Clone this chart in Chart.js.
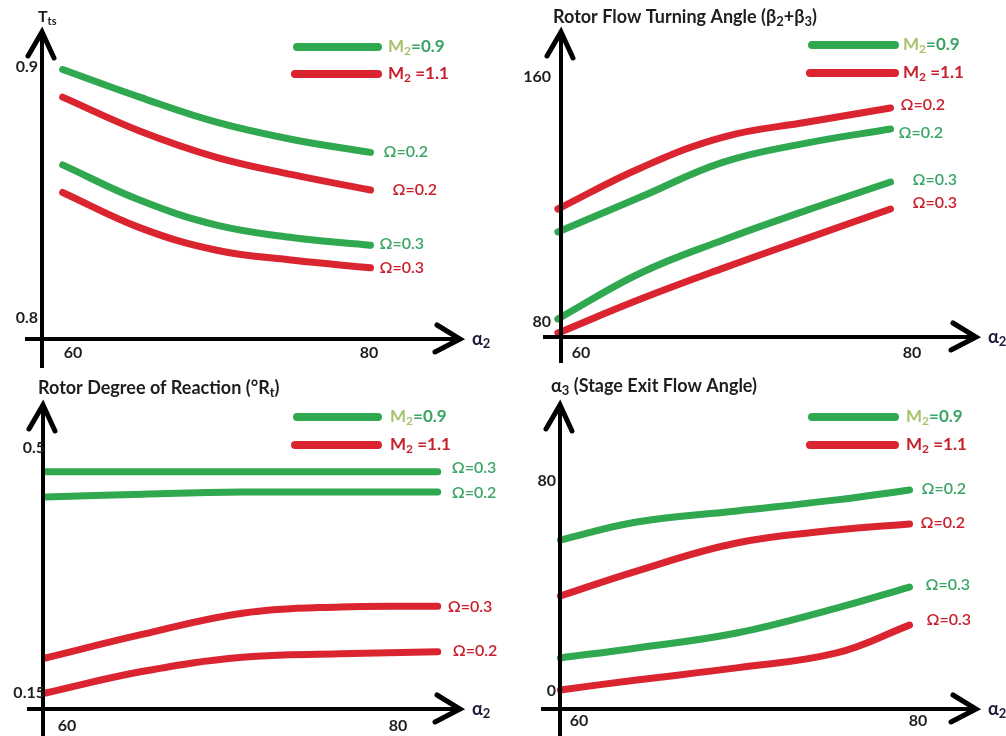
<!DOCTYPE html>
<html>
<head>
<meta charset="utf-8">
<script src="https://cdn.jsdelivr.net/npm/chart.js@4.4.1/dist/chart.umd.min.js"></script>
<style>
  body { margin: 0; background: #fff; }
  #wrap { position: relative; width: 1006px; height: 736px; overflow: hidden; background: #fff; }
  .p { position: absolute; width: 503px; height: 368px; }
</style>
</head>
<body>
<div id="wrap">
  <div class="p" style="left:0;top:0"><canvas id="c1" width="503" height="368"></canvas></div>
  <div class="p" style="left:503px;top:0"><canvas id="c2" width="503" height="368"></canvas></div>
  <div class="p" style="left:0;top:368px"><canvas id="c3" width="503" height="368"></canvas></div>
  <div class="p" style="left:503px;top:368px"><canvas id="c4" width="503" height="368"></canvas></div>
</div>
<script>
// ---- data ----
const alphaTicks = [60, 80];

// total-to-static efficiency
const tsX = [59.3, 64.5, 69.7, 74.9, 80.1];
const tsGreen02 = [0.899, 0.888, 0.878, 0.871, 0.866];
const tsRed02 = [0.888, 0.8745, 0.864, 0.857, 0.851];
const tsGreen03 = [0.861, 0.847, 0.837, 0.832, 0.829];
const tsRed03 = [0.850, 0.836, 0.827, 0.823, 0.820];
const tsTicks = [0.8, 0.9];

// rotor flow turning angle
const turnX = [58.6, 63.6, 68.6, 73.7, 78.7];
const turnRed02 = [116.9, 130.3, 140.4, 145.3, 149.9];
const turnGreen02 = [109.4, 120.8, 132.2, 138.5, 143.0];
const turnGreen03 = [81.0, 96.0, 106.8, 116.6, 125.7];
const turnRed03 = [76.4, 87.5, 97.6, 107.4, 116.9];
const turnTicks = [80, 160];

// rotor degree of reaction
const reactX = [58.7, 64.6, 70.6, 76.5, 82.4];
const reactGreen03 = [0.466, 0.466, 0.466, 0.466, 0.466];
const reactGreen02 = [0.430, 0.434, 0.437, 0.437, 0.437];
const reactRed03 = [0.200, 0.234, 0.264, 0.273, 0.274];
const reactRed02 = [0.150, 0.181, 0.201, 0.206, 0.209];
const reactTicks = [0.15, 0.5];

// stage exit flow angle
const exitX = [58.9, 63.4, 69.3, 75.2, 79.5];
const exitGreen02 = [57.5, 64.4, 68.6, 72.8, 76.6];
const exitRed02 = [36.2, 45.7, 56.4, 61.3, 63.6];
const exitGreen03 = [12.6, 16.4, 22.1, 31.6, 39.6];
const exitRed03 = [0.4, 4.2, 8.8, 14.5, 25.1];
const exitTicks = [0, 80];

const omegaLabels = ['Ω=0.2', 'Ω=0.3'];

// ---- styles ----
const GREEN = '#2fa84f', RED = '#da2530';
const GREEN_TXT = '#3aa565', RED_TXT = '#c8202c', OLIVE = '#a9c26e';
const DARK = '#1e1e1e', ALPHA_C = '#1c1c3c';
const FONT = 'Lato, "DejaVu Sans", sans-serif';

function drawParts(ctx, x, y, parts, size, weight, align) {
  ctx.textBaseline = 'middle';
  ctx.textAlign = 'left';
  let w = 0;
  parts.forEach(([t, c, sub]) => {
    ctx.font = weight + ' ' + (sub ? Math.round(size * 0.7) : size) + 'px ' + FONT;
    w += ctx.measureText(t).width;
  });
  let cx = align === 'right' ? x - w : align === 'center' ? x - w / 2 : x;
  parts.forEach(([t, c, sub]) => {
    ctx.font = weight + ' ' + (sub ? Math.round(size * 0.7) : size) + 'px ' + FONT;
    ctx.fillStyle = c;
    ctx.fillText(t, cx, y + (sub ? size * 0.25 : 0));
    cx += ctx.measureText(t).width;
  });
}

function seg(ctx, pts) {
  ctx.beginPath();
  ctx.moveTo(pts[0][0], pts[0][1]);
  for (let i = 1; i < pts.length; i++) ctx.lineTo(pts[i][0], pts[i][1]);
  ctx.stroke();
}

const decor = {
  id: 'decor',
  afterDatasetsDraw(chart, args, o) {
    const ctx = chart.ctx, xs = chart.scales.x, ys = chart.scales.y;
    const a = o.axes;
    ctx.save();
    // axes with hand drawn arrow heads
    ctx.strokeStyle = '#000';
    ctx.lineCap = 'butt';
    ctx.lineWidth = 4;
    seg(ctx, [[a.ax, a.top + 2], [a.ax, a.bottom]]);
    seg(ctx, [[a.left, a.ay], [a.tip - 2, a.ay]]);
    ctx.lineWidth = 5;
    ctx.lineCap = 'round';
    ctx.lineJoin = 'miter';
    seg(ctx, [[a.ax - 14, a.top + 24], [a.ax, a.top], [a.ax + 12, a.top + 26]]);
    seg(ctx, [[a.tip - 23, a.ay - 14], [a.tip, a.ay], [a.tip - 25, a.ay + 13]]);
    drawParts(ctx, a.tip + 12, a.ay, [['α', ALPHA_C], ['2', ALPHA_C, true]], 18, 'bold');

    // ticks
    o.yTicks.forEach(v => drawParts(ctx, o.yTickRight, ys.getPixelForValue(v), [[String(v), DARK]], 16, 'bold', 'right'));
    alphaTicks.forEach(v => drawParts(ctx, xs.getPixelForValue(v), o.xTickY, [[String(v), DARK]], 16, 'bold', 'center'));

    // title
    drawParts(ctx, o.title.x, o.title.y, o.title.parts, o.title.size, 'bold');

    // legend
    const L = o.legend;
    ctx.lineWidth = 8;
    ctx.strokeStyle = GREEN;
    seg(ctx, [[L.x1 + 2, L.yG], [L.x2, L.yG]]);
    ctx.strokeStyle = RED;
    seg(ctx, [[L.x1, L.yR], [L.x2, L.yR]]);
    drawParts(ctx, L.tx, L.yG, [['M', OLIVE], ['2', OLIVE, true], ['=0.9', GREEN_TXT]], 17, 'bold');
    drawParts(ctx, L.tx, L.yR, [['M', RED_TXT], ['2', RED_TXT, true], [' =1.1', RED_TXT]], 17, 'bold');

    // curve end labels
    chart.data.datasets.forEach((ds, i) => {
      const last = ds.data[ds.data.length - 1];
      const off = o.labelOffsets[i];
      const col = ds.borderColor === GREEN ? GREEN_TXT : RED_TXT;
      drawParts(ctx, xs.getPixelForValue(last.x) + off[0], ys.getPixelForValue(last.y) + off[1], [[ds.label, col]], 16, '600');
    });
    ctx.restore();
  }
};

// scale range so that value v1 sits at pixel p1 and v2 at p2
function range(v1, p1, v2, p2, size) {
  const k = (p2 - p1) / (v2 - v1);
  const a = v1 - p1 / k, b = v1 + (size - p1) / k;
  return [Math.min(a, b), Math.max(a, b)];
}

function makePanel(id, cfg) {
  const xr = range(cfg.xAnchor[0], cfg.xAnchor[1], cfg.xAnchor[2], cfg.xAnchor[3], 503);
  const yr = range(cfg.yAnchor[0], 368 - cfg.yAnchor[1], cfg.yAnchor[2], 368 - cfg.yAnchor[3], 368);
  const datasets = cfg.series.map(s => ({
    label: s.label,
    data: s.x.map((x, i) => ({ x: x, y: s.y[i] })),
    borderColor: s.color,
    borderWidth: 7,
    borderCapStyle: 'round',
    pointRadius: 0,
    tension: 0.4,
    fill: false
  }));
  new Chart(document.getElementById(id), {
    type: 'line',
    data: { datasets },
    options: {
      responsive: false,
      animation: false,
      events: [],
      layout: { padding: 0 },
      plugins: { legend: { display: false }, tooltip: { enabled: false }, decor: cfg.decor },
      scales: {
        x: { type: 'linear', display: false, min: xr[0], max: xr[1] },
        y: { type: 'linear', display: false, min: yr[0], max: yr[1] }
      }
    },
    plugins: [decor]
  });
}

makePanel('c1', {
  xAnchor: [60, 73, 80, 369],
  yAnchor: [0.9, 67, 0.8, 318],
  series: [
    { label: omegaLabels[0], x: tsX, y: tsGreen02, color: GREEN },
    { label: omegaLabels[0], x: tsX, y: tsRed02, color: RED },
    { label: omegaLabels[1], x: tsX, y: tsGreen03, color: GREEN },
    { label: omegaLabels[1], x: tsX, y: tsRed03, color: RED }
  ],
  decor: {
    axes: { ax: 42, ay: 339, top: 32, bottom: 368, left: 25, tip: 460 },
    yTicks: tsTicks, yTickRight: 38, xTickY: 353,
    title: { x: 38, y: 17, size: 16, parts: [['T', DARK], ['ts', DARK, true]] },
    legend: { x1: 295, x2: 378, yG: 47, yR: 74, tx: 388 },
    labelOffsets: [[13, 0], [22, 0], [9, -1], [9, 0]]
  }
});

makePanel('c2', {
  xAnchor: [60, 78, 80, 409],
  yAnchor: [160, 77, 80, 322],
  series: [
    { label: omegaLabels[0], x: turnX, y: turnRed02, color: RED },
    { label: omegaLabels[0], x: turnX, y: turnGreen02, color: GREEN },
    { label: omegaLabels[1], x: turnX, y: turnGreen03, color: GREEN },
    { label: omegaLabels[1], x: turnX, y: turnRed03, color: RED }
  ],
  decor: {
    axes: { ax: 58, ay: 337, top: 32, bottom: 363, left: 40, tip: 473 },
    yTicks: turnTicks, yTickRight: 48, xTickY: 353,
    title: { x: 50, y: 17, size: 18, parts: [['Rotor Flow Turning Angle (β', DARK], ['2', DARK, true], ['+β', DARK], ['3', DARK, true], [')', DARK]] },
    legend: { x1: 307, x2: 392, yG: 45, yR: 73, tx: 400 },
    labelOffsets: [[10, -3], [8, 4], [22, -2], [22, -6]]
  }
});

makePanel('c3', {
  xAnchor: [60, 67, 80, 398],
  yAnchor: [0.5, 80, 0.15, 325],
  series: [
    { label: omegaLabels[1], x: reactX, y: reactGreen03, color: GREEN },
    { label: omegaLabels[0], x: reactX, y: reactGreen02, color: GREEN },
    { label: omegaLabels[1], x: reactX, y: reactRed03, color: RED },
    { label: omegaLabels[0], x: reactX, y: reactRed02, color: RED }
  ],
  decor: {
    axes: { ax: 43, ay: 341, top: 37, bottom: 368, left: 27, tip: 460 },
    yTicks: reactTicks, yTickRight: 45, xTickY: 358,
    title: { x: 38, y: 20, size: 18, parts: [['Rotor Degree of Reaction (°R', DARK], ['t', DARK, true], [')', DARK]] },
    legend: { x1: 295, x2: 378, yG: 49, yR: 77, tx: 390 },
    labelOffsets: [[14, -4], [14, 1], [10, 1], [15, -1]]
  }
});

makePanel('c4', {
  xAnchor: [60, 76, 80, 415],
  yAnchor: [80, 113, 0, 323],
  series: [
    { label: omegaLabels[0], x: exitX, y: exitGreen02, color: GREEN },
    { label: omegaLabels[0], x: exitX, y: exitRed02, color: RED },
    { label: omegaLabels[1], x: exitX, y: exitGreen03, color: GREEN },
    { label: omegaLabels[1], x: exitX, y: exitRed03, color: RED }
  ],
  decor: {
    axes: { ax: 57, ay: 341, top: 37, bottom: 368, left: 38, tip: 473 },
    yTicks: exitTicks, yTickRight: 53, xTickY: 353,
    title: { x: 48, y: 18, size: 18, parts: [['α', DARK], ['3', DARK, true], [' (Stage Exit Flow Angle)', DARK]] },
    legend: { x1: 307, x2: 392, yG: 49, yR: 77, tx: 403 },
    labelOffsets: [[12, -1], [11, -1], [16, -2], [17, -5]]
  }
});
</script>
</body>
</html>
